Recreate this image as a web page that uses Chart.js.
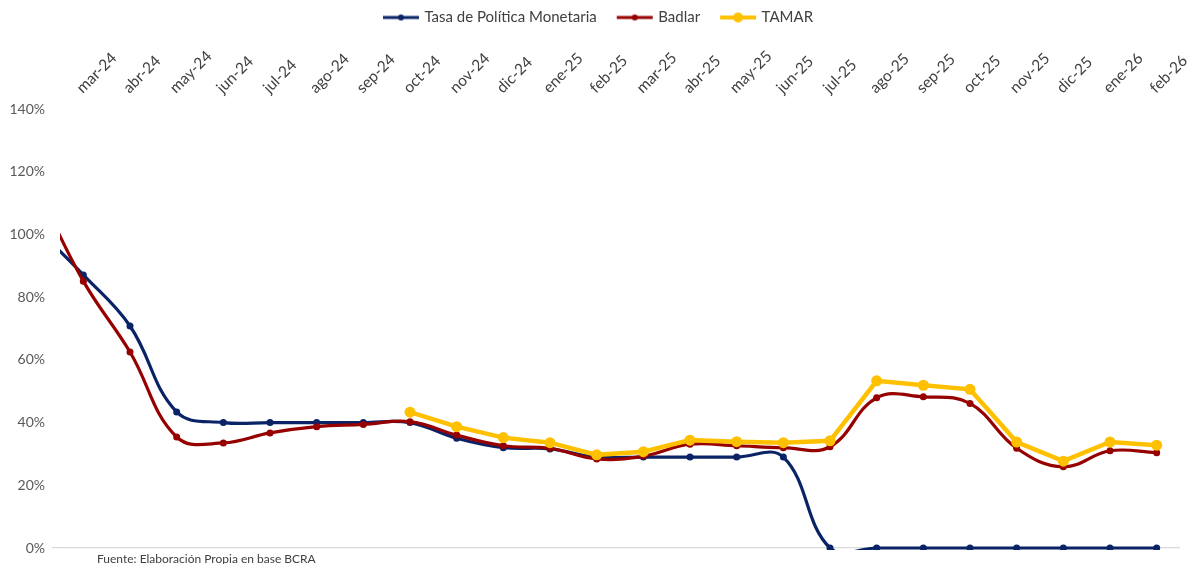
<!DOCTYPE html>
<html><head><meta charset="utf-8">
<script src="https://cdn.jsdelivr.net/npm/chart.js@4.4.1/dist/chart.umd.min.js"></script>
<style>
html,body{margin:0;padding:0;background:#fff;}
#wrap{position:relative;width:1192px;height:564px;overflow:hidden;}
#note{position:absolute;left:97px;top:551px;font:12px Lato, sans-serif;color:#404040;white-space:nowrap;}
</style></head><body>
<div id="wrap"><canvas id="c"></canvas><div id="note">Fuente: Elaboración Propia en base BCRA</div></div>
<script>
const categories = ['feb-24','mar-24','abr-24','may-24','jun-24','jul-24','ago-24','sep-24','oct-24','nov-24','dic-24','ene-25','feb-25','mar-25','abr-25','may-25','jun-25','jul-25','ago-25','sep-25','oct-25','nov-25','dic-25','ene-26','feb-26'];
const firstShown = 'mar-24';
const tpm    = [102, 87.1, 70.8, 43.4, 40, 40, 40, 40, 40, 35, 32, 31.6, 29, 29, 29, 29, 29, 0, 0, 0, 0, 0, 0, 0, 0];
const badlar = [115, 85.1, 62.5, 35.4, 33.5, 36.7, 38.7, 39.4, 40.3, 36.0, 32.6, 31.8, 28.4, 29.3, 33.1, 32.6, 32.0, 32.3, 47.9, 48.2, 46.1, 31.8, 25.9, 31.0, 30.4];
const tamar  = [null, null, null, null, null, null, null, null, 43.3, 38.7, 35.2, 33.6, 29.7, 30.7, 34.4, 33.9, 33.6, 34.2, 53.3, 51.9, 50.6, 33.8, 27.7, 33.8, 32.8];
const seriesNames = ['Tasa de Política Monetaria', 'Badlar', 'TAMAR'];
const yMin = 0, yMax = 140, yStep = 20;

const NAVY = '#0a2366', RED = '#960000', GOLD = '#FFC000';
const FONT = 'Lato, "Open Sans", sans-serif';

function legendIcon(color, lw, r) {
  const cv = document.createElement('canvas');
  cv.width = 40; cv.height = 12;
  const g = cv.getContext('2d');
  g.strokeStyle = color; g.lineWidth = lw;
  g.beginPath(); g.moveTo(2, 6); g.lineTo(38, 6); g.stroke();
  g.fillStyle = color; g.beginPath(); g.arc(20, 6, r, 0, Math.PI * 2); g.fill();
  return cv;
}
const icons = [legendIcon(NAVY, 3, 3), legendIcon(RED, 3, 3), legendIcon(GOLD, 4, 5)];

// the legend in the reference is centred on the full image width, slightly right of the plot centre
const legendShift = {
  id: 'legendShift',
  afterLayout(chart) { if (chart.legend) chart.legend.left += 18; }
};

const cfg = {
  type: 'line',
  data: {
    labels: categories,
    datasets: [
      { label: seriesNames[0], data: tpm, borderColor: NAVY, backgroundColor: NAVY, borderWidth: 3.2,
        pointRadius: 3.5, pointBackgroundColor: NAVY, pointBorderWidth: 0, tension: 0.4, order: 3,
        clip: {left: 0, right: 10, top: 10, bottom: 2} },
      { label: seriesNames[1], data: badlar, borderColor: RED, backgroundColor: RED, borderWidth: 3.2,
        pointRadius: 3.5, pointBackgroundColor: RED, pointBorderWidth: 0, tension: 0.4, order: 2,
        clip: {left: 0, right: 10, top: 10, bottom: 2} },
      { label: seriesNames[2], data: tamar, borderColor: GOLD, backgroundColor: GOLD, borderWidth: 4.5,
        pointRadius: 5.5, pointBackgroundColor: GOLD, pointBorderWidth: 0, tension: 0, order: 1,
        clip: {left: 0, right: 10, top: 10, bottom: 2} }
    ]
  },
  plugins: [legendShift],
  options: {
    responsive: true, maintainAspectRatio: false, animation: false,
    layout: { padding: { top: -12, right: 12, bottom: 16, left: 0 } },
    elements: { line: { capBezierPoints: false } },
    plugins: {
      tooltip: { enabled: false },
      legend: {
        position: 'top', align: 'center',
        labels: {
          usePointStyle: true, pointStyleWidth: 32, padding: 22, color: '#404040',
          font: { family: FONT, size: 15 },
          generateLabels: (chart) => chart.data.datasets.map((ds, i) => ({
            text: ds.label, pointStyle: icons[i], datasetIndex: i, hidden: false,
            fillStyle: 'rgba(0,0,0,0)', strokeStyle: 'rgba(0,0,0,0)', lineWidth: 0, fontColor: '#404040'
          }))
        }
      }
    },
    scales: {
      x: {
        type: 'category', position: 'top', min: firstShown, offset: true,
        grid: { display: false, drawTicks: false }, border: { display: false },
        ticks: { autoSkip: false, minRotation: 45, maxRotation: 45, padding: 12, labelOffset: 9,
                 color: '#404040', font: { family: FONT, size: 15.5 } },
        afterFit: (s) => { s.height = 74; s.paddingLeft = 0; s.paddingRight = 0; }
      },
      y: {
        min: yMin, max: yMax,
        ticks: { stepSize: yStep, padding: 7, color: '#595959', font: { family: FONT, size: 14 },
                 callback: (v) => v + '%' },
        grid: { drawTicks: true, tickLength: 8, lineWidth: 1.2,
                color: (c) => (c.tick && c.tick.value === 0) ? '#d9d9d9' : 'rgba(0,0,0,0)' },
        border: { display: false },
        afterFit: (s) => { s.width = 60; s.paddingTop = 0; s.paddingBottom = 0; }
      }
    }
  }
};
new Chart(document.getElementById('c'), cfg);
</script>
</body></html>
